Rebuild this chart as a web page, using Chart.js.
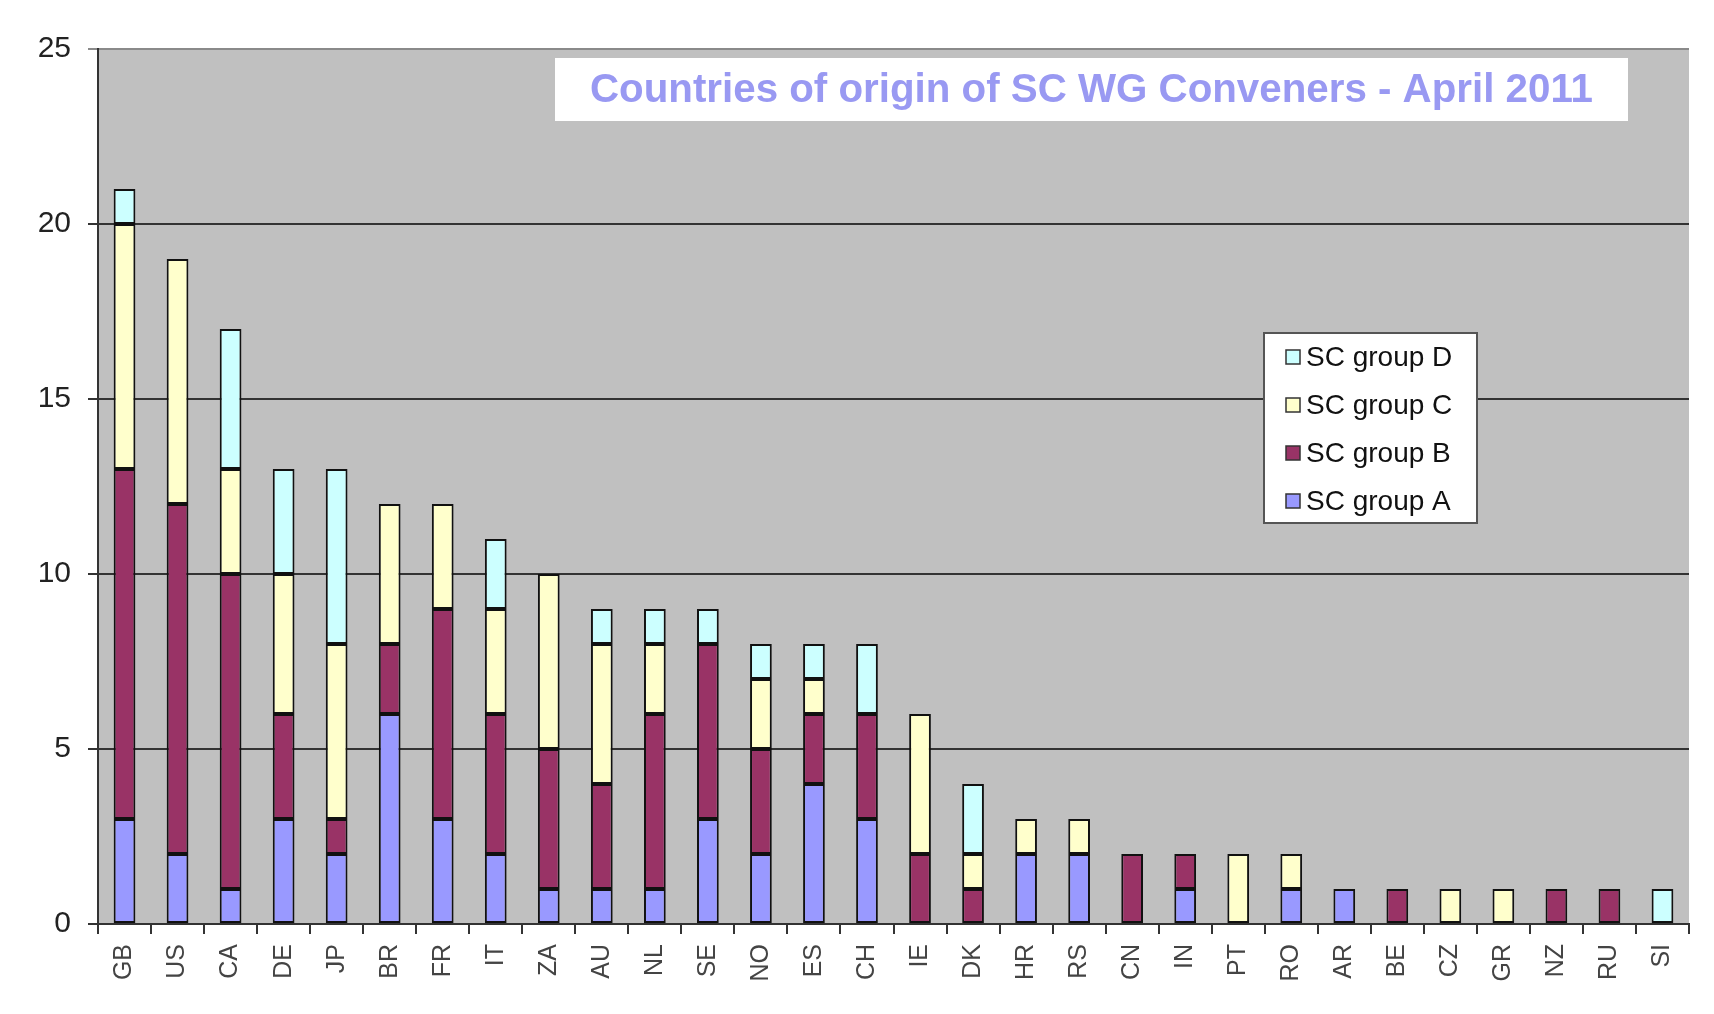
<!DOCTYPE html>
<html>
<head>
<meta charset="utf-8">
<script src="https://cdn.jsdelivr.net/npm/chart.js@4/dist/chart.umd.min.js"></script>
<style>
  html, body { margin: 0; padding: 0; background: #ffffff; }
  #wrap { width: 1714px; height: 1014px; position: relative; }
</style>
</head>
<body>
<div id="wrap"><canvas id="chart" width="1714" height="1014"></canvas></div>
<script>
const countries = ["GB", "US", "CA", "DE", "JP", "BR", "FR", "IT", "ZA", "AU", "NL", "SE", "NO", "ES", "CH",
  "IE", "DK", "HR", "RS", "CN", "IN", "PT", "RO", "AR", "BE", "CZ", "GR", "NZ", "RU", "SI"];

const groupA = [3, 2, 1, 3, 2, 6, 3, 2, 1, 1, 1, 3, 2, 4, 3, 0, 0, 2, 2, 0, 1, 0, 1, 1, 0, 0, 0, 0, 0, 0];
const groupB = [10, 10, 9, 3, 1, 2, 6, 4, 4, 3, 5, 5, 3, 2, 3, 2, 1, 0, 0, 2, 1, 0, 0, 0, 1, 0, 0, 1, 1, 0];
const groupC = [7, 7, 3, 4, 5, 4, 3, 3, 5, 4, 2, 0, 2, 1, 0, 4, 1, 1, 1, 0, 0, 2, 1, 0, 0, 1, 1, 0, 0, 0];
const groupD = [1, 0, 4, 3, 5, 0, 0, 2, 0, 1, 1, 1, 1, 1, 2, 0, 2, 0, 0, 0, 0, 0, 0, 0, 0, 0, 0, 0, 0, 1];

const yTicks = [0, 5, 10, 15, 20, 25];

const chartTitle = "Countries of origin of SC WG Conveners - April 2011";

const FONT = "'Liberation Sans', Arial, sans-serif";


function makeSet(label, data, color) {
  return {
    label: label,
    // empty segments are not drawn at all (no border line on the axis)
    data: data.map(v => (v === 0 ? null : v)),
    backgroundColor: color,
    borderColor: "#111111",
    borderWidth: 2,
    borderSkipped: false,
    categoryPercentage: 1,
    barPercentage: 0.41
  };
}


const plotBackground = {
  id: "plotBackground",
  beforeDraw(chart) {
    const { ctx, chartArea } = chart;
    ctx.save();
    ctx.fillStyle = "#c0c0c0";
    ctx.fillRect(chartArea.left, chartArea.top, chartArea.right - chartArea.left, chartArea.bottom - chartArea.top);
    ctx.restore();
  }
};


const titleBox = {
  id: "titleBox",
  afterDraw(chart) {
    const ctx = chart.ctx;
    const x0 = 555, y0 = 58, w = 1073, h = 63;

    ctx.save();
    ctx.fillStyle = "#ffffff";
    ctx.fillRect(x0, y0, w, h);

    ctx.font = "bold 40px " + FONT;
    ctx.fillStyle = "#9999f2";
    ctx.textBaseline = "middle";
    ctx.textAlign = "center";

    const target = 1003;
    const tw = ctx.measureText(chartTitle).width;
    const sx = target / tw;

    ctx.translate(x0 + w / 2, y0 + h / 2 + 1);
    ctx.scale(sx, 1);
    ctx.fillText(chartTitle, 0, 0);
    ctx.restore();
  }
};


const boxLegend = {
  id: "boxLegend",
  afterDraw(chart) {
    const ctx = chart.ctx;
    const x0 = 1264, y0 = 333, w = 213, h = 190;

    ctx.save();
    ctx.fillStyle = "#ffffff";
    ctx.fillRect(x0, y0, w, h);
    ctx.strokeStyle = "#555555";
    ctx.lineWidth = 2;
    ctx.strokeRect(x0, y0, w, h);

    const sets = chart.data.datasets.slice().reverse();
    const rows = [357, 405, 453, 501];

    ctx.font = "28px " + FONT;
    ctx.textBaseline = "middle";
    ctx.textAlign = "left";

    sets.forEach((ds, i) => {
      const y = rows[i];
      ctx.fillStyle = ds.backgroundColor;
      ctx.fillRect(x0 + 22, y - 7, 14, 14);
      ctx.strokeStyle = "#333333";
      ctx.lineWidth = 1.5;
      ctx.strokeRect(x0 + 22, y - 7, 14, 14);
      ctx.fillStyle = "#111111";
      ctx.fillText(ds.label, x0 + 42, y + 1);
    });

    ctx.restore();
  }
};


const ctx = document.getElementById("chart").getContext("2d");

new Chart(ctx, {
  type: "bar",
  data: {
    labels: countries,
    datasets: [
      makeSet("SC group A", groupA, "#9999ff"),
      makeSet("SC group B", groupB, "#993366"),
      makeSet("SC group C", groupC, "#ffffcc"),
      makeSet("SC group D", groupD, "#ccffff")
    ]
  },
  options: {
    responsive: false,
    animation: false,
    layout: {
      padding: { left: 0, right: 25, top: 49, bottom: 0 }
    },
    plugins: {
      legend: { display: false },
      title: { display: false },
      tooltip: { enabled: false }
    },
    scales: {
      x: {
        stacked: true,
        afterFit(scale) {
          scale.height = 90;
        },
        border: { display: true, color: "#333333", width: 2 },
        grid: {
          display: true,
          drawOnChartArea: false,
          drawTicks: true,
          tickLength: 10,
          color: "#333333",
          lineWidth: 2,
          offset: true
        },
        ticks: {
          autoSkip: false,
          minRotation: 90,
          maxRotation: 90,
          padding: 10,
          color: "#444444",
          font: { family: FONT, size: 25 }
        }
      },
      y: {
        stacked: true,
        min: 0,
        max: 25,
        afterFit(scale) {
          scale.width = 98;
        },
        afterBuildTicks(scale) {
          scale.ticks = yTicks.map(v => ({ value: v }));
        },
        border: { display: true, color: "#333333", width: 2 },
        grid: {
          drawTicks: true,
          tickLength: 10,
          lineWidth: 2,
          color: c => (c.tick && c.tick.value === 25 ? "#8a8a8a" : "#333333")
        },
        ticks: {
          padding: 17,
          color: "#222222",
          font: { family: FONT, size: 30 }
        }
      }
    }
  },
  plugins: [plotBackground, titleBox, boxLegend]
});
</script>
</body>
</html>
